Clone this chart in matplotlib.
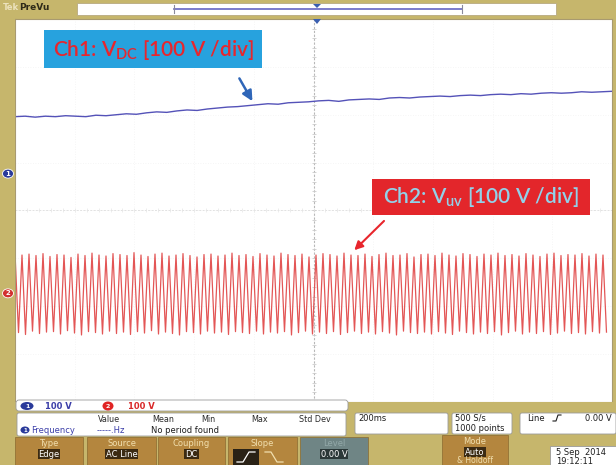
import numpy as np
import matplotlib.pyplot as plt
from matplotlib.patches import Rectangle, FancyBboxPatch, Ellipse, Polygon

plt.rcParams['font.family'] = ['DejaVu Sans']
plt.rcParams['mathtext.fontset'] = 'custom'
plt.rcParams['mathtext.rm'] = 'Lato:weight=semibold'
plt.rcParams['mathtext.it'] = 'Lato:italic'
plt.rcParams['mathtext.bf'] = 'Lato:bold'

W, H = 616, 465

# acquisition settings
sec_per_div = 0.2
volts_per_div = 100
n_hdiv, n_vdiv = 10, 8

# channel ground markers, in divisions from screen centre
ch1_ground = 0.77
ch2_ground = -1.73

# Ch1: DC link voltage (V above its marker), evenly spaced over the record
ch1_volts = [119, 120, 118, 120, 119, 121, 120, 119, 122, 121,
             123, 125, 124, 127, 129, 128, 131, 133, 132, 135,
             137, 139, 140, 142, 144, 146, 145, 148, 149, 150,
             152, 153, 151, 154, 155, 156, 155, 158, 159, 158,
             160, 161, 162, 161, 163, 164, 163, 165, 166, 165,
             167, 166, 168, 169, 168, 169, 171, 170, 171, 172]

# Ch2: line voltage, one peak and one trough per cycle (V)
ch2_period = 0.02345
ch2_peaks = [84, 80, 82, 79, 83, 77, 81, 80, 75, 82,
             79, 84, 80, 78, 83, 81, 79, 85, 80, 77,
             82, 84, 78, 80, 83, 79, 76, 81, 82, 78,
             80, 84, 79, 81, 77, 83, 80, 78, 84, 81,
             79, 82, 76, 80, 83, 81, 78, 84, 80, 79,
             82, 77, 81, 84, 79, 80, 83, 76, 81, 82,
             79, 84, 80, 78, 83, 81, 77, 82, 80, 84,
             79, 81, 78, 83, 80, 77, 82, 84, 79, 81,
             80, 83, 78, 82, 80]
ch2_troughs = [-82, -86, -79, -84, -81, -80, -85, -78, -83, -87,
               -80, -82, -85, -79, -84, -81, -86, -80, -83, -78,
               -85, -81, -84, -87, -80, -82, -85, -79, -83, -81,
               -86, -80, -82, -84, -79, -85, -81, -83, -80, -87,
               -82, -79, -85, -81, -84, -80, -86, -82, -79, -84,
               -81, -85, -80, -83, -87, -79, -82, -84, -81, -85,
               -80, -83, -86, -79, -82, -85, -81, -84, -80, -87,
               -82, -79, -85, -81, -84, -80, -86, -83, -79, -84,
               -82, -85, -80, -83, -81]

OLIVE = '#c6b66c'
BTN = '#b4863e'
BTN_TXT = '#f1dfae'
DARK = '#3b2a12'
BLUE = '#5452b8'
RED = '#e35656'


def px(x0, y0, x1, y1):
    return [x0 / W, 1 - y1 / H, (x1 - x0) / W, (y1 - y0) / H]


fig = plt.figure(figsize=(W / 100, H / 100), dpi=100)
fig.patch.set_facecolor(OLIVE)

# scope screen
scr = fig.add_axes(px(15, 19, 612, 402))
scr.set_xlim(0, n_hdiv * sec_per_div)
scr.set_ylim(-n_vdiv / 2, n_vdiv / 2)
scr.set_facecolor('white')
scr.set_xticks([])
scr.set_yticks([])
for s in scr.spines.values():
    s.set_color('#a89a70')
    s.set_linewidth(0.8)

# faint graticule
for i in range(1, n_hdiv):
    scr.axvline(i * sec_per_div, color='#f3f3f3', lw=0.6, ls=(0, (1, 2)))
for j in range(-n_vdiv // 2 + 1, n_vdiv // 2):
    scr.axhline(j, color='#f3f3f3', lw=0.6, ls=(0, (1, 2)))
mid_t = n_hdiv * sec_per_div / 2
scr.axvline(mid_t, color='#b8b8b8', lw=0.8, ls=(0, (2, 1.5)))
scr.axhline(0, color='#e2e2e2', lw=0.7, ls=(0, (2, 1.5)))
minor_y = np.arange(-n_vdiv / 2, n_vdiv / 2 + 0.01, 0.2)
scr.plot([mid_t] * len(minor_y), minor_y, ls='none', marker='_', ms=3.5, mew=0.6, color='#cccccc')
minor_x = np.arange(0, n_hdiv * sec_per_div + 0.001, sec_per_div / 5)
scr.plot(minor_x, [0] * len(minor_x), ls='none', marker='|', ms=3, mew=0.5, color='#e6e6e6')

# Ch1 trace
t1 = np.linspace(0, n_hdiv * sec_per_div, len(ch1_volts))
y1 = ch1_ground + np.array(ch1_volts) / volts_per_div
scr.plot(t1, y1, color=BLUE, lw=1.0)

# Ch2 trace
n = len(ch2_peaks)
t2 = np.empty(2 * n)
v2 = np.empty(2 * n)
t2[0::2] = np.arange(n) * ch2_period
t2[1::2] = (np.arange(n) + 0.5) * ch2_period
v2[0::2] = ch2_peaks
v2[1::2] = ch2_troughs
scr.plot(t2, ch2_ground + v2 / volts_per_div, color=RED, lw=0.9)

# overlay in pixel coordinates for labels and the control panel
ov = fig.add_axes([0, 0, 1, 1])
ov.set_xlim(0, W)
ov.set_ylim(H, 0)
ov.axis('off')
ov.patch.set_alpha(0)

# top status bar
ov.add_patch(Rectangle((0, 0), W, 18, fc=OLIVE, ec='none'))
ov.text(3, 8, 'Tek', fontsize=6, color='#ece2bd', fontweight='bold', va='center')
ov.text(19, 8, 'PreVu', fontsize=6.5, color='#2e2a18', fontweight='bold', va='center')
ov.add_patch(Rectangle((77, 3), 479, 12, fc='white', ec='#b8aa80', lw=0.6))
ov.plot([174, 462], [9, 9], color='#6565c2', lw=1.2)
ov.plot([174, 174], [5, 13], color='#8a8a9a', lw=0.8)
ov.plot([462, 462], [5, 13], color='#8a8a9a', lw=0.8)
ov.add_patch(Polygon([[313, 4], [321, 4], [317, 8]], closed=True, fc='#3a5fb0', ec='none'))
ov.add_patch(Polygon([[313, 19], [321, 19], [317, 24]], closed=True, fc='#3a5fb0', ec='none'))

# channel ground markers on the left strip
ov.add_patch(Rectangle((0, 18), 15, 384, fc=OLIVE, ec='none'))
for gnd, col, lab in [(ch1_ground, '#2a3a9a', '1'), (ch2_ground, '#d23030', '2')]:
    ymark = 210.5 - gnd * (383 / n_vdiv)
    ov.add_patch(Ellipse((8, ymark), 11, 9, fc=col, ec='white', lw=0.6))
    ov.text(8, ymark, lab, fontsize=5, color='white', ha='center', va='center', fontweight='bold')

# callout labels
ov.add_patch(Rectangle((44, 30), 218, 38, fc='#27a2de', ec='none'))
ov.text(153, 49.5, r'Ch1: V$_{\mathrm{DC}}$ [100 V /div]', fontsize=15, family='Lato',
        fontweight='semibold', color='#e8262d', ha='center', va='center')
ov.annotate('', xy=(0.8, np.interp(0.8, t1, y1) + 0.03), xycoords=scr.transData,
            xytext=(238, 76), textcoords='data',
            arrowprops=dict(arrowstyle='-|>,head_length=0.6,head_width=0.3', color='#2f66b8', lw=1.8))

ov.add_patch(Rectangle((372, 179), 218, 36, fc='#e3262b', ec='none'))
ov.text(481, 197, r'Ch2: V$_{\mathrm{uv}}$ [100 V /div]', fontsize=15, family='Lato',
        fontweight='semibold', color='#92d2ea', ha='center', va='center')
ov.annotate('', xy=(1.13, ch2_ground + 0.86), xycoords=scr.transData,
            xytext=(386, 219), textcoords='data',
            arrowprops=dict(arrowstyle='-|>,head_length=0.5,head_width=0.25', color='#e8262d', lw=1.5))

# bottom panel
ov.add_patch(Rectangle((0, 402), W, 63, fc=OLIVE, ec='none'))
ov.add_patch(FancyBboxPatch((16, 400), 332, 11, boxstyle='round,pad=0,rounding_size=3',
                            fc='white', ec='#9a9a9a', lw=0.6))
ov.add_patch(Ellipse((27, 406), 13, 8, fc='#2a3a9a', ec='none'))
ov.text(27, 406, '1', fontsize=4.5, color='white', ha='center', va='center', fontweight='bold')
ov.text(45, 406, '100 V', fontsize=6, color='#3b3ea8', va='center', fontweight='bold')
ov.add_patch(Ellipse((108, 406), 11, 9, fc='#e02424', ec='none'))
ov.text(108, 406, '2', fontsize=4.5, color='white', ha='center', va='center', fontweight='bold')
ov.text(128, 406, '100 V', fontsize=6, color='#d82828', va='center', fontweight='bold')

# measurement readout
ov.add_patch(FancyBboxPatch((17, 413), 329, 23, boxstyle='round,pad=0,rounding_size=2',
                            fc='white', ec='#9a9a9a', lw=0.6))
for xh, head in [(98, 'Value'), (152, 'Mean'), (201, 'Min'), (251, 'Max'), (299, 'Std Dev')]:
    ov.text(xh, 419, head, fontsize=5.8, color='#2a2a2a', va='center')
ov.add_patch(Ellipse((25, 430), 9, 7, fc='#2a3a9a', ec='none'))
ov.text(25, 430, '1', fontsize=4, color='white', ha='center', va='center', fontweight='bold')
ov.text(31, 430, 'Frequency', fontsize=6, color='#3b3ea8', va='center')
ov.text(97, 430, '-----.Hz', fontsize=6, color='#3b3ea8', va='center')
ov.text(151, 430, 'No period found', fontsize=6, color='#1e1e1e', va='center')

# timebase / sampling / trigger readouts
for x0, x1 in [(355, 448), (452, 512), (520, 616)]:
    ov.add_patch(FancyBboxPatch((x0, 413), x1 - x0, 21, boxstyle='round,pad=0,rounding_size=2',
                                fc='white', ec='#9a9a9a', lw=0.6))
ov.text(358, 418, '200ms', fontsize=6, color='#1e1e1e', va='center')
ov.text(455, 418, '500 S/s', fontsize=6, color='#1e1e1e', va='center')
ov.text(455, 428, '1000 points', fontsize=6, color='#1e1e1e', va='center')
ov.text(527, 418, 'Line', fontsize=6, color='#1e1e1e', va='center')
ov.plot([553, 556, 558, 561], [421, 421, 415, 415], color='#1e1e1e', lw=0.8)
ov.text(612, 418, '0.00 V', fontsize=6, color='#1e1e1e', va='center', ha='right')


# soft-key row
def softkey(x0, x1, y0, label, value, fc=BTN, lab_col=BTN_TXT, val_bg=DARK):
    ov.add_patch(Rectangle((x0, y0), x1 - x0, H - y0, fc=fc, ec='#8a6a30', lw=0.5))
    xc = (x0 + x1) / 2
    ov.text(xc, y0 + 6, label, fontsize=6, color=lab_col, ha='center', va='center')
    if value:
        ov.text(xc, y0 + 17, value, fontsize=6, color='white', ha='center', va='center',
                bbox=dict(boxstyle='square,pad=0.1', fc=val_bg, ec='none'))


softkey(15, 83, 437, 'Type', 'Edge')
softkey(87, 156, 437, 'Source', 'AC Line')
softkey(158, 225, 437, 'Coupling', 'DC')
softkey(228, 297, 437, 'Slope', None)
ov.add_patch(Rectangle((233, 449), 26, 16, fc='#2a2216', ec='none'))
ov.plot([237, 243, 249, 255], [462, 462, 452, 452], color='white', lw=0.9)
ov.plot([265, 271, 277, 283], [452, 452, 462, 462], color='#f1dfae', lw=0.9)
softkey(300, 368, 437, 'Level', '0.00 V', fc='#6f8585', lab_col='#93a9a9', val_bg='#2b3838')
softkey(442, 508, 435, 'Mode', 'Auto')
ov.text(475, 460.5, '& Holdoff', fontsize=5.5, color=BTN_TXT, ha='center', va='center')

# date stamp
ov.add_patch(Rectangle((550, 446), 66, 19, fc='white', ec='#9a9a9a', lw=0.6))
ov.text(556, 452, '5 Sep  2014', fontsize=6, color='#1e1e1e', va='center')
ov.text(556, 461, '19:12:11', fontsize=6, color='#1e1e1e', va='center')

fig.savefig('out.png', dpi=100, facecolor=OLIVE)
